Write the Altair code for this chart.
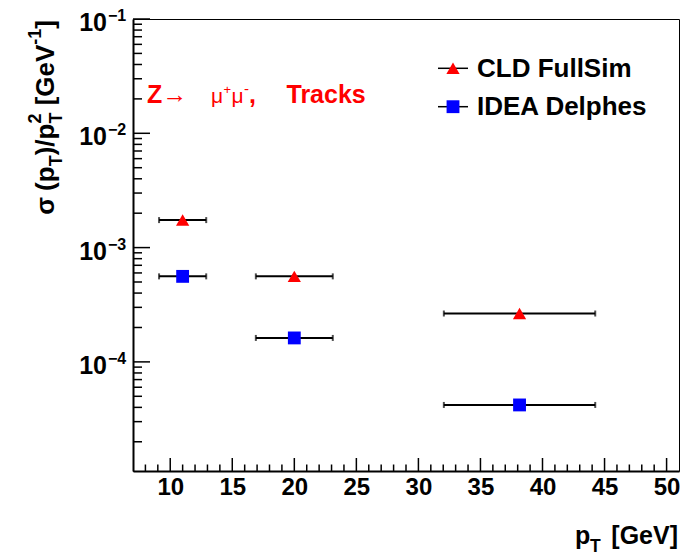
import altair as alt
import pandas as pd

# ---------------- data ----------------
series_names = ["CLD FullSim", "IDEA Delphes"]
series_shapes = ["triangle-up", "square"]
series_colors = ["#ff0000", "#0000ff"]
series_sizes = [175, 165]

pt_center = [11.0, 20.0, 38.15]
pt_low = [9.1, 16.9, 32.05]
pt_high = [12.9, 23.1, 44.25]
cld_res = [1.74e-3, 5.6e-4, 2.65e-4]
idea_res = [5.6e-4, 1.62e-4, 4.2e-5]

x_tick_labels = [10, 15, 20, 25, 30, 35, 40, 45, 50]
x_minor_ticks = [v for v in range(8, 51) if v % 5]
y_decades = [-4, -3, -2, -1]
x_domain = [7, 51]
y_domain = [1.11e-5, 0.1]
y_minor_ticks = [m * 10.0 ** e for e in range(-5, -1) for m in range(2, 10)
                 if y_domain[0] <= m * 10.0 ** e <= y_domain[1]]

FONT = "Liberation Sans"
W, H = 546, 452

rows = []
for name, vals in zip(series_names, [cld_res, idea_res]):
    for c, lo, hi, v in zip(pt_center, pt_low, pt_high, vals):
        rows.append(dict(series=name, pt=c, lo=lo, hi=hi, val=v))
df = pd.DataFrame(rows)
caps = pd.concat([df.assign(xc=df.lo), df.assign(xc=df.hi)])

xs = alt.Scale(domain=x_domain, nice=False, zero=False)
ys = alt.Scale(type="log", domain=y_domain, nice=False)
xaxis = alt.Axis(values=x_tick_labels, title=None, grid=False, ticks=False, tickSize=0,
                 labelFont=FONT, labelFontWeight="bold", labelFontSize=24, labelColor="black",
                 labelPadding=4, labelFlush=False, domainColor="black", domainWidth=2)
yaxis = alt.Axis(title=None, grid=False, ticks=False, labels=False,
                 domainColor="black", domainWidth=2)


def X(f):
    return alt.X(f, scale=xs, axis=xaxis)


def Y(f):
    return alt.Y(f, scale=ys, axis=yaxis)


def label(txt, x, y, size, weight="bold", color="black", align="left", angle=0):
    return alt.Chart(pd.DataFrame({"t": [txt]})).mark_text(
        align=align, baseline="alphabetic", font=FONT, fontSize=size,
        fontWeight=weight, color=color, angle=angle
    ).encode(x=alt.value(x), y=alt.value(y), text="t:N")


layers = []

# inward axis ticks
xt_major = pd.DataFrame({"v": x_tick_labels})
xt_minor = pd.DataFrame({"v": x_minor_ticks})
layers.append(alt.Chart(xt_major).mark_rule(color="black", strokeWidth=1.5).encode(
    x=X("v:Q"), y=alt.value(H), y2=alt.value(H - 13)))
layers.append(alt.Chart(xt_minor).mark_rule(color="black", strokeWidth=1.5).encode(
    x=X("v:Q"), y=alt.value(H), y2=alt.value(H - 6.5)))
yt_major = pd.DataFrame({"v": [10.0 ** e for e in y_decades]})
yt_minor = pd.DataFrame({"v": y_minor_ticks})
layers.append(alt.Chart(yt_major).mark_rule(color="black", strokeWidth=1.5).encode(
    y=Y("v:Q"), x=alt.value(0), x2=alt.value(17)))
layers.append(alt.Chart(yt_minor).mark_rule(color="black", strokeWidth=1.5).encode(
    y=Y("v:Q"), x=alt.value(0), x2=alt.value(9)))

# y tick labels 10^n
ylab = pd.DataFrame({"v": [10.0 ** e for e in y_decades],
                     "base": ["10"] * len(y_decades),
                     "exp": ["\u2212" + str(abs(e)) for e in y_decades]})
layers.append(alt.Chart(ylab).mark_text(align="right", baseline="alphabetic", dy=12,
                                        font=FONT, fontSize=25, fontWeight="bold",
                                        color="black").encode(
    y=Y("v:Q"), x=alt.value(-26), text="base:N"))
layers.append(alt.Chart(ylab).mark_text(align="left", baseline="alphabetic", dy=2,
                                        font=FONT, fontSize=16, fontWeight="bold",
                                        color="black").encode(
    y=Y("v:Q"), x=alt.value(-25), text="exp:N"))

# error bars
layers.append(alt.Chart(df).mark_rule(color="black", strokeWidth=2).encode(
    x=X("lo:Q"), x2="hi:Q", y=Y("val:Q")))
layers.append(alt.Chart(caps).mark_tick(orient="vertical", color="black", size=6,
                                        thickness=2).encode(
    x=X("xc:Q"), y=Y("val:Q")))

# markers
layers.append(alt.Chart(df).mark_point(filled=True, opacity=1).encode(
    x=X("pt:Q"), y=Y("val:Q"),
    shape=alt.Shape("series:N", scale=alt.Scale(domain=series_names, range=series_shapes), legend=None),
    color=alt.Color("series:N", scale=alt.Scale(domain=series_names, range=series_colors), legend=None),
    size=alt.Size("series:N", scale=alt.Scale(domain=series_names, range=series_sizes), legend=None)))

# legend (ROOT style, inside the frame)
leg_y = [49.3, 87.7]
for name, shp, col, sz, ly in zip(series_names, series_shapes, series_colors, series_sizes, leg_y):
    layers.append(alt.Chart(pd.DataFrame({"a": [0]})).mark_rule(color="black", strokeWidth=1.5).encode(
        x=alt.value(305), x2=alt.value(335), y=alt.value(ly)))
    layers.append(alt.Chart(pd.DataFrame({"a": [0]})).mark_point(
        shape=shp, filled=True, opacity=1, color=col, size=sz).encode(
        x=alt.value(320), y=alt.value(ly)))
    layers.append(label(name, 344, ly + 8.5, 26))

# red process annotation
RED = "#ff0000"
layers.append(label("Z\u2192", 14, 84, 25, color=RED))
layers.append(label("\u03bc", 78, 84, 21, weight="normal", color=RED))
layers.append(label("+", 90.5, 75, 13, weight="normal", color=RED))
layers.append(label("\u03bc", 98.5, 84, 21, weight="normal", color=RED))
layers.append(label("-", 111, 75, 15, weight="normal", color=RED))
layers.append(label(",", 116, 84, 25, color=RED))
layers.append(label("Tracks", 153.5, 84, 25, color=RED))

# x title: p_T [GeV]
layers.append(label("[GeV]", 545, 525, 25, align="right"))
layers.append(label("T", 457, 533, 17.5))
layers.append(label("p", 442, 525, 25))

# y title: sigma (p_T)/p_T^2 [GeV^-1], rotated (leading spaces handled as advances)
WID = {" ": 278, "(": 333, ")": 333, "/": 278, "[": 333, "]": 333, "-": 333,
       "1": 556, "2": 556, "G": 778, "e": 556, "V": 667, "p": 611, "T": 611, "\u03c3": 640}


def tw(s, size):
    return sum(WID[c] for c in s) / 1000.0 * size


MAIN, SMALL = 26, 18
base_x, sub_x, sup_x = -79, -71, -92
pieces = [  # groups of (text, size, x); each group advances by its widest piece
    [("\u03c3", MAIN, base_x)],
    [(" ", MAIN, None)],
    [("(p", MAIN, base_x)],
    [("T", SMALL, sub_x)],
    [(")/p", MAIN, base_x)],
    [("T", SMALL, sub_x), ("2", SMALL, sup_x)],
    [(" ", MAIN, None)],
    [("[GeV", MAIN, base_x)],
    [("-1", SMALL, sup_x)],
    [("]", MAIN, base_x)],
]
total = sum(max(tw(t, s) for t, s, _ in grp) for grp in pieces)
pos = 1 + total
for grp in pieces:
    for t, s, xx in grp:
        if xx is not None:
            layers.append(label(t, xx, pos, s, angle=270))
    pos -= max(tw(t, s) for t, s, _ in grp)

chart = alt.layer(*layers).properties(
    width=W, height=H,
    autosize=alt.AutoSizeParams(type="none"),
    padding={"left": 125, "top": 11, "right": 10, "bottom": 84},
    background="white",
).configure_view(stroke="black", strokeWidth=1)

chart.save("out.html", embed_options={"renderer": "svg", "actions": False})
